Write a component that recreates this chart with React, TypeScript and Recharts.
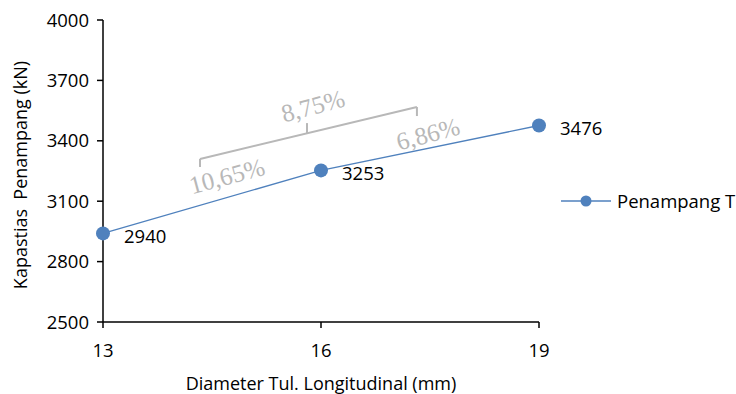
import React from 'react';
import { LineChart, Line, XAxis, YAxis, ReferenceLine, ReferenceDot, Legend, LabelList } from 'recharts';

const diameters = [13, 16, 19];
const capacities = [2940, 3253, 3476];
const xTicks = [13, 16, 19];
const yTicks = [2500, 2800, 3100, 3400, 3700, 4000];
const seriesName = 'Penampang T';

// bracket annotation (data coordinates)
const bracketSegments = [
  [{ x: 14.335, y: 3270 }, { x: 14.335, y: 3310 }],
  [{ x: 14.335, y: 3310 }, { x: 17.32, y: 3568 }],
  [{ x: 17.32, y: 3568 }, { x: 17.32, y: 3523 }],
  [{ x: 15.807, y: 3437 }, { x: 15.807, y: 3488 }],
];
const pctLabels = ['10,65%', '8,75%', '6,86%'];
const pctX = [14.706, 15.89, 17.473];
const pctY = [3225, 3573, 3434];

const data = diameters.map((d, i) => ({ d, v: capacities[i] }));

const FONT = '"Open Sans", sans-serif';
const BLUE = '#4f81bd';
const GRAY = '#b8b8b8';
const TICK_FS = 18.5;
const TITLE_FS = 18;

const PctLabel = (text: string) => (props: any) => {
  const vb = props.viewBox || {};
  const cx = vb.x + (vb.width || 0) / 2;
  const cy = vb.y + (vb.height || 0) / 2;
  return (
    <text
      x={cx}
      y={cy}
      textAnchor="middle"
      dominantBaseline="central"
      transform={`rotate(-15, ${cx}, ${cy})`}
      fill={GRAY}
      fontFamily='"Liberation Serif", serif'
      fontSize={25}
    >
      {text}
    </text>
  );
};

const ValueLabel = (props: any) => {
  const { x, y, value } = props;
  return (
    <text x={x + 21} y={y + 2} dominantBaseline="central" fill="#000" fontFamily={FONT} fontSize={TICK_FS}>
      {value}
    </text>
  );
};

const YTitle = (props: any) => {
  const vb = props.viewBox || {};
  const cx = 20;
  const cy = vb.y + vb.height / 2 + 4;
  return (
    <text
      x={cx}
      y={cy}
      textAnchor="middle"
      dominantBaseline="central"
      transform={`rotate(-90, ${cx}, ${cy})`}
      fill="#000"
      fontFamily={FONT}
      fontSize={TITLE_FS}
      style={{ whiteSpace: 'pre' }}
    >
      {'Kapastias  Penampang (kN)'}
    </text>
  );
};

const XTitle = (props: any) => {
  const vb = props.viewBox || {};
  const cx = vb.x + vb.width / 2;
  return (
    <text x={cx} y={383} textAnchor="middle" dominantBaseline="central" fill="#000" fontFamily={FONT} fontSize={TITLE_FS}>
      Diameter Tul. Longitudinal (mm)
    </text>
  );
};

const LegendContent = () => (
  <div style={{ display: 'flex', alignItems: 'center', fontFamily: FONT, fontSize: TICK_FS, color: '#000', whiteSpace: 'nowrap' }}>
    <svg width={52} height={16} style={{ display: 'block' }}>
      <line x1={1} y1={8} x2={51} y2={8} stroke={BLUE} strokeWidth={1.3} />
      <circle cx={26} cy={8} r={5.5} fill={BLUE} />
    </svg>
    <span style={{ marginLeft: 5 }}>{seriesName}</span>
  </div>
);

export default function App() {
  return (
    <div style={{ position: 'absolute', left: 0, top: 0, background: '#fff' }}>
      <LineChart width={736} height={394} data={data} margin={{ top: 20, right: 197, bottom: 0, left: 0 }}>
        <XAxis
          dataKey="d"
          type="number"
          domain={[13, 19]}
          ticks={xTicks}
          height={72}
          stroke="#000"
          strokeWidth={1.5}
          tickSize={6}
          tick={{ fill: '#000', fontFamily: FONT, fontSize: TICK_FS, dy: 14 }}
          label={<XTitle />}
        />
        <YAxis
          type="number"
          domain={[2500, 4000]}
          ticks={yTicks}
          width={103}
          stroke="#000"
          strokeWidth={1.5}
          tickSize={6}
          tick={{ fill: '#000', fontFamily: FONT, fontSize: TICK_FS, dx: -6 }}
          label={<YTitle />}
        />
        <Legend
          layout="horizontal"
          verticalAlign="middle"
          align="center"
          content={<LegendContent />}
          wrapperStyle={{ left: 560, top: 188, width: 176 }}
        />
        {bracketSegments.map((seg, i) => (
          <ReferenceLine key={`b${i}`} segment={seg} stroke={GRAY} strokeWidth={2} ifOverflow="visible" />
        ))}
        {pctLabels.map((t, i) => (
          <ReferenceDot key={`p${i}`} x={pctX[i]} y={pctY[i]} r={0} stroke="none" fill="none" ifOverflow="visible" label={PctLabel(t)} />
        ))}
        <Line
          dataKey="v"
          name={seriesName}
          stroke={BLUE}
          strokeWidth={1.3}
          dot={{ r: 7, fill: BLUE, stroke: BLUE, strokeWidth: 0 }}
          isAnimationActive={false}
        >
          <LabelList dataKey="v" content={<ValueLabel />} />
        </Line>
      </LineChart>
    </div>
  );
}
